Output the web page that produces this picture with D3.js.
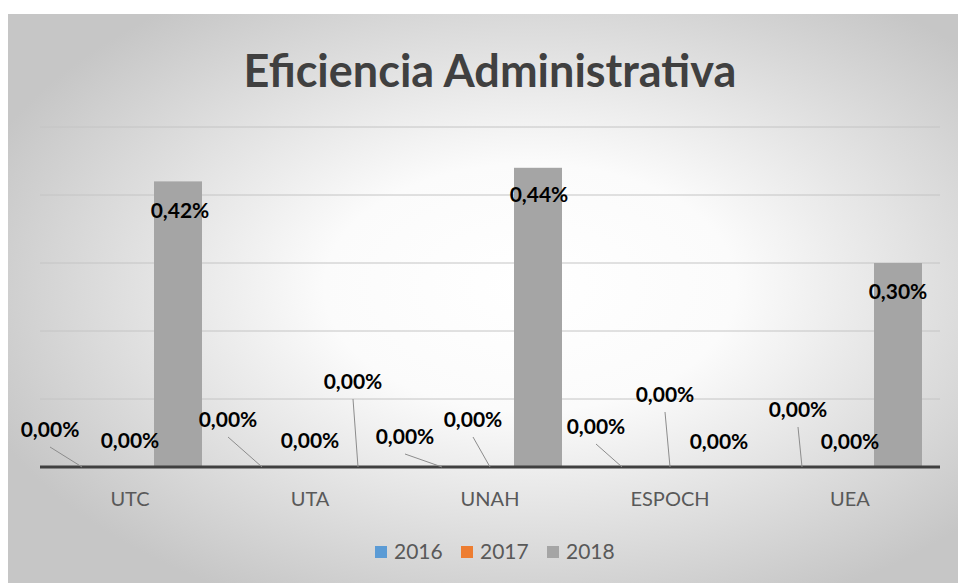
<!DOCTYPE html>
<html>
<head>
<meta charset="utf-8">
<script src="https://cdn.jsdelivr.net/npm/d3@7"></script>
<style>
  body { margin: 0; background: #fff; }
  text { font-family: Lato, "Open Sans", sans-serif; }
</style>
</head>
<body>
<svg id="chart" width="958" height="583"></svg>
<script>
// data
const categories = ["UTC", "UTA", "UNAH", "ESPOCH", "UEA"];
const years = ["2016", "2017", "2018"];
const v2016 = [0, 0, 0, 0, 0];
const v2017 = [0, 0, 0, 0, 0];
const v2018 = [0.42, 0, 0.44, 0, 0.30];
const yTicks = [0, 0.1, 0.2, 0.3, 0.4, 0.5];
const colors = ["#5b9bd5", "#ed7d31", "#a5a5a5"];

let svg = d3.select("#chart");
let margin = {left: 40, top: 127, right: 18, bottom: 116};
let width = +svg.attr("width") - margin.left - margin.right;
let height = +svg.attr("height") - margin.top - margin.bottom;

// background with radial gradient like the office chart
let grad = svg.append("defs").append("radialGradient")
    .attr("id", "bg").attr("cx", "55%").attr("cy", "48%").attr("r", "62%");
grad.append("stop").attr("offset", "0%").attr("stop-color", "#ffffff");
grad.append("stop").attr("offset", "35%").attr("stop-color", "#fbfbfb");
grad.append("stop").attr("offset", "100%").attr("stop-color", "#c6c6c6");
svg.append("rect").attr("x", 8).attr("y", 14).attr("width", 950).attr("height", 569)
    .attr("fill", "url(#bg)");

svg.append("text")
    .attr("x", 490).attr("y", 87)
    .attr("text-anchor", "middle")
    .attr("font-size", 45).attr("font-weight", "bold")
    .attr("fill", "#404040")
    .text("Eficiencia Administrativa");

let series = [v2016, v2017, v2018];
let rows = [];
categories.forEach((c, i) => {
    years.forEach((yr, j) => {
        rows.push({cat: c, year: yr, si: j, value: series[j][i], idx: i * 3 + j});
    });
});

let x0 = d3.scaleBand().domain(categories).range([0, width]).paddingInner(0.2).paddingOuter(0.1);
let x1 = d3.scaleBand().domain(years).range([0, x0.bandwidth()]);
let y = d3.scaleLinear().domain([0, 0.5]).range([height, 0]);

let g = svg.append("g").attr("transform", `translate(${margin.left}, ${margin.top})`);

// gridlines
g.selectAll(".grid")
    .data(yTicks.filter(t => t > 0))
    .enter().append("line")
    .attr("x1", 0).attr("x2", width)
    .attr("y1", d => y(d)).attr("y2", d => y(d))
    .attr("stroke", "#c4c4c4").attr("stroke-width", 1);

// bars
g.selectAll(".bar")
    .data(rows)
    .enter().append("rect")
    .attr("x", d => x0(d.cat) + x1(d.year))
    .attr("y", d => y(d.value))
    .attr("width", x1.bandwidth())
    .attr("height", d => height - y(d.value))
    .attr("fill", d => colors[d.si]);

// x axis line + labels
g.append("line")
    .attr("x1", 0).attr("x2", width)
    .attr("y1", height).attr("y2", height)
    .attr("stroke", "#404040").attr("stroke-width", 3);

let xAxis = g.append("g")
    .attr("transform", `translate(0, ${height})`)
    .call(d3.axisBottom(x0).tickSize(0).tickPadding(25));
xAxis.select(".domain").remove();
xAxis.selectAll("text").attr("font-size", 20).attr("fill", "#595959")
    .style("font-family", "Lato, 'Open Sans', sans-serif");

// data labels, nudged the way the original had them dragged around
const nudge = [
    [-32, -37], [0, -26], [2, 29],
    [-34, -47], [0, -26], [-5, -85],
    [-37, -30], [-17, -47], [1, 27],
    [-26, -40], [-5, -72], [1, -25],
    [-4, -57], [0, -25], [0, 29]
];
let fmt = v => v.toFixed(2).replace(".", ",") + "%";
let cx = d => x0(d.cat) + x1(d.year) + x1.bandwidth() / 2;

let labels = g.append("g");
rows.forEach(d => {
    let [dx, dy] = nudge[d.idx];
    let lx = cx(d) + dx, ly = y(d.value) + dy;
    if (Math.hypot(dx, dy) > 28 && d.value === 0) {
        labels.append("line")
            .attr("x1", lx).attr("y1", ly + 17)
            .attr("x2", cx(d)).attr("y2", y(d.value))
            .attr("stroke", "#8c8c8c").attr("stroke-width", 1);
    }
    labels.append("text")
        .attr("x", lx).attr("y", ly)
        .attr("dy", "0.35em")
        .attr("text-anchor", "middle")
        .attr("font-size", 21).attr("font-weight", "bold")
        .attr("fill", "#000")
        .text(fmt(d.value));
});

// legend
let legend = svg.append("g");
let legX = [375, 461, 547];
years.forEach((yr, j) => {
    legend.append("rect")
        .attr("x", legX[j]).attr("y", 546)
        .attr("width", 12).attr("height", 12)
        .attr("fill", colors[j]);
    legend.append("text")
        .attr("x", legX[j] + 19).attr("y", 552)
        .attr("dy", "0.35em")
        .attr("font-size", 21).attr("fill", "#595959")
        .text(yr);
});
</script>
</body>
</html>
